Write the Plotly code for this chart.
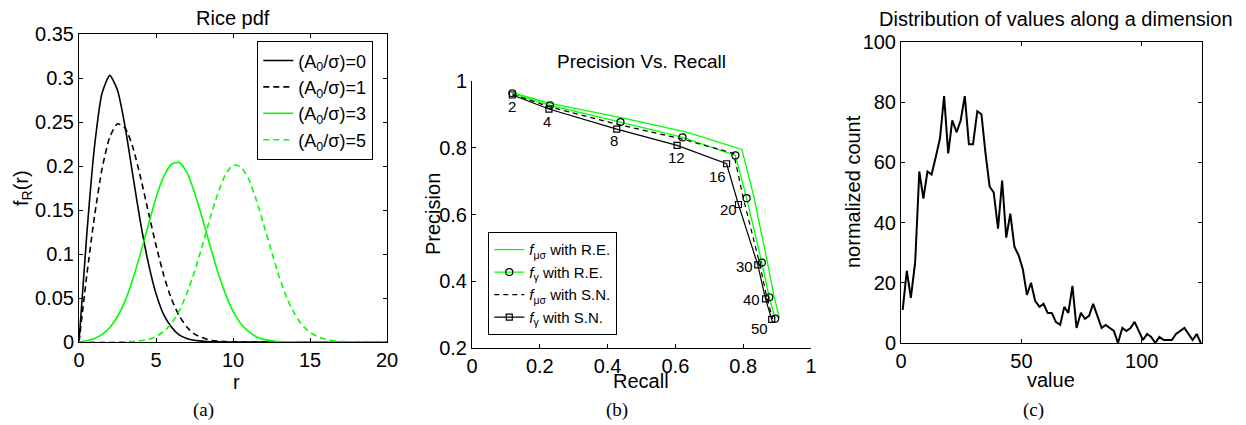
import plotly.graph_objects as go

# page offset of the figure inside the browser (body margin)
OX, OY = 8, 8
W, H = 1246 - OX, 425 - OY

# ---------------- Panel (a): Rice pdf ----------------
r_vals = [0, 0.5, 1, 1.5, 2, 2.5, 3, 3.5, 4, 4.5, 5, 5.5, 6, 6.5, 7, 7.5, 8, 8.5, 9, 9.5,
          10, 10.5, 11, 11.5, 12, 12.5, 13, 13.5, 14, 14.5, 15, 15.5, 16, 16.5, 17, 17.5,
          18, 18.5, 19, 19.5, 20]
rice_snr0 = [0, .121, .221, .283, .303, .286, .244, .189, .135, .090, .055, .031, .017, .008,
             .004, .002, .001, .0003, .0001, 0, 0, 0, 0, 0, 0, 0, 0, 0, 0, 0, 0, 0, 0, 0, 0, 0,
             0, 0, 0, 0, 0]
rice_snr1 = [0, .075, .142, .197, .233, .248, .243, .221, .187, .148, .110, .076, .049, .030,
             .017, .009, .005, .002, .001, .0004, .0002, 0, 0, 0, 0, 0, 0, 0, 0, 0, 0, 0, 0, 0,
             0, 0, 0, 0, 0, 0, 0]
rice_snr3 = [0, .0015, .004, .0086, .0165, .029, .047, .072, .101, .133, .164, .188, .202, .204,
             .193, .170, .141, .110, .080, .055, .035, .021, .012, .006, .003, .0015, .0006,
             .0003, .0001, 0, 0, 0, 0, 0, 0, 0, 0, 0, 0, 0, 0]
rice_snr5 = [0, 0, 0, 0, 0, .0001, .0002, .0006, .0014, .003, .006, .012, .021, .035, .055, .080,
             .109, .140, .168, .190, .201, .199, .186, .162, .133, .103, .074, .050, .032, .019,
             .011, .006, .003, .0013, .0006, .0002, .0001, 0, 0, 0, 0]
rice_names = ["(A<sub>0</sub>/σ)=0", "(A<sub>0</sub>/σ)=1", "(A<sub>0</sub>/σ)=3", "(A<sub>0</sub>/σ)=5"]

# ---------------- Panel (b): Precision vs Recall ----------------
recall_mu_re = [0.12, 0.23, 0.44, 0.633, 0.796, 0.83, 0.870, 0.89, 0.907]
prec_mu_re = [0.965, 0.933, 0.890, 0.847, 0.795, 0.66, 0.464, 0.36, 0.289]
recall_g_re = [0.119, 0.230, 0.438, 0.621, 0.777, 0.810, 0.855, 0.877, 0.894]
prec_g_re = [0.963, 0.927, 0.877, 0.831, 0.777, 0.649, 0.456, 0.352, 0.288]
recall_mu_sn = [0.12, 0.23, 0.43, 0.62, 0.772, 0.80, 0.848, 0.870, 0.887]
prec_mu_sn = [0.960, 0.922, 0.870, 0.826, 0.783, 0.650, 0.455, 0.350, 0.287]
recall_g_sn = [0.119, 0.227, 0.427, 0.605, 0.751, 0.786, 0.843, 0.866, 0.884]
prec_g_sn = [0.958, 0.916, 0.856, 0.807, 0.752, 0.630, 0.449, 0.347, 0.286]
k_labels = ["2", "4", "8", "12", "16", "20", "30", "40", "50"]
k_label_recall = [0.119, 0.222, 0.419, 0.604, 0.725, 0.756, 0.805, 0.825, 0.848]
k_label_prec = [0.923, 0.878, 0.823, 0.770, 0.715, 0.616, 0.444, 0.344, 0.259]

# ---------------- Panel (c): distribution ----------------
value_x = [0.7, 2.4, 4.1, 5.9, 7.6, 9.3, 11.0, 12.7, 14.5, 16.2, 17.9, 19.6, 21.3, 23.1, 24.8,
           26.5, 28.2, 29.9, 31.7, 33.4, 35.1, 36.8, 38.5, 40.3, 42.0, 43.7, 45.4, 47.1, 48.9,
           50.6, 52.3, 54.0, 55.7, 57.5, 59.2, 60.9, 62.6, 64.3, 66.1, 67.8, 69.5, 71.2, 72.9,
           74.7, 76.4, 78.1, 79.8, 81.5, 83.3, 85.0, 86.7, 88.4, 90.1, 91.9, 93.6, 95.3, 97.0,
           98.7, 100.5, 102.2, 103.9, 105.6, 107.3, 109.1, 110.8, 112.5, 114.2, 115.9, 117.7,
           119.4, 121.1, 122.8, 124.5]
norm_count = [11, 24, 15, 27, 57, 48, 57, 56, 62, 68, 82, 63, 74, 70, 74, 82, 66, 66, 77, 76,
              63, 52, 50, 38, 54, 35, 43, 32, 29, 24.5, 16, 20, 14, 12, 13, 10, 10, 7, 6, 12,
              10, 19, 5, 10, 8, 9, 13, 9, 5, 6, 5, 4, 0, 5, 4, 5, 7, 4, 1, 3, 2, 0, 2, 1, 1, 1,
              3, 4, 5, 3, 1, 3, 0]

GREEN = "#00ff00"
FONT = "Liberation Sans, Arial, sans-serif"
SERIF = "Liberation Serif, Times New Roman, serif"


def px_x(X):
    return (X - OX) / W


def px_y(Y):
    return 1 - (Y - OY) / H


def dx(p0, p1):
    return [px_x(p0), px_x(p1)]


def dy(p0, p1):
    return [px_y(p1), px_y(p0)]


fig = go.Figure()

# (a)
styles_a = [("black", "solid"), ("black", "6px,4px"), (GREEN, "solid"), (GREEN, "6px,4px")]
for ys, nm, (c, d) in zip([rice_snr0, rice_snr1, rice_snr3, rice_snr5], rice_names, styles_a):
    fig.add_trace(go.Scatter(x=r_vals, y=ys, mode="lines", name=nm,
                             line=dict(color=c, dash=d, width=1.6, shape="spline", smoothing=0.6),
                             xaxis="x", yaxis="y", legend="legend"))

# (b)
fig.add_trace(go.Scatter(x=recall_mu_re, y=prec_mu_re, mode="lines",
                         name="<i>f</i><sub>μσ</sub> with R.E.",
                         line=dict(color=GREEN, width=1.3), xaxis="x2", yaxis="y2", legend="legend2"))
fig.add_trace(go.Scatter(x=recall_g_re, y=prec_g_re, mode="lines+markers",
                         name="<i>f</i><sub>γ</sub> with R.E.",
                         line=dict(color=GREEN, width=1.3),
                         marker=dict(symbol="circle-open", color="black", size=7, line=dict(width=1.2)),
                         xaxis="x2", yaxis="y2", legend="legend2"))
fig.add_trace(go.Scatter(x=recall_mu_sn, y=prec_mu_sn, mode="lines",
                         name="<i>f</i><sub>μσ</sub> with S.N.",
                         line=dict(color="black", width=1.2, dash="5px,4px"),
                         xaxis="x2", yaxis="y2", legend="legend2"))
fig.add_trace(go.Scatter(x=recall_g_sn, y=prec_g_sn, mode="lines+markers",
                         name="<i>f</i><sub>γ</sub> with S.N.",
                         line=dict(color="black", width=1.2),
                         marker=dict(symbol="square-open", color="black", size=6, line=dict(width=1.2)),
                         xaxis="x2", yaxis="y2", legend="legend2"))

# (c)
fig.add_trace(go.Scatter(x=value_x, y=norm_count, mode="lines", showlegend=False,
                         line=dict(color="black", width=2), xaxis="x3", yaxis="y3"))

axis_common = dict(showline=True, linecolor="black", linewidth=1, ticks="inside", ticklen=4,
                   tickcolor="black", showgrid=False, zeroline=False, automargin=False,
                   tickfont=dict(family=FONT, size=20, color="black"))

fig.update_layout(
    template="none",
    width=W, height=H, margin=dict(l=0, r=0, t=0, b=0, pad=0, autoexpand=False),
    paper_bgcolor="white", plot_bgcolor="white",
    font=dict(family=FONT, color="black"),
    xaxis=dict(domain=dx(79, 387), range=[0, 20], tickvals=[0, 5, 10, 15, 20], mirror="ticks",
               anchor="y", **axis_common),
    yaxis=dict(domain=dy(34, 342), range=[0, 0.35], dtick=0.05, mirror="ticks",
               anchor="x", **axis_common),
    xaxis2=dict(domain=dx(472, 811), range=[0, 1], dtick=0.2, anchor="y2", **axis_common),
    yaxis2=dict(domain=dy(81, 348), range=[0.2, 1], dtick=0.2, anchor="x2", **axis_common),
    xaxis3=dict(domain=dx(901, 1202), range=[0, 125], tickvals=[0, 50, 100], mirror="ticks",
                anchor="y3", **axis_common),
    yaxis3=dict(domain=dy(42, 343), range=[0, 100], dtick=20, mirror="ticks",
                anchor="x3", **axis_common),
    legend=dict(x=px_x(257), y=px_y(41), xanchor="left", yanchor="top",
                bgcolor="white", bordercolor="black", borderwidth=1.3,
                font=dict(family=FONT, size=18, color="black"), tracegroupgap=0),
    legend2=dict(x=px_x(488), y=px_y(232), xanchor="left", yanchor="top",
                 bgcolor="white", bordercolor="black", borderwidth=1.3,
                 font=dict(family=FONT, size=15, color="black"), tracegroupgap=0),
)

ann = []


def add_text(text, X, Y, size, rot=0, family=FONT, xa="center", ya="middle"):
    ann.append(dict(text=text, x=px_x(X), y=px_y(Y), xref="paper", yref="paper",
                    showarrow=False, xanchor=xa, yanchor=ya, textangle=rot,
                    font=dict(family=family, size=size, color="black")))


# titles
add_text("Rice pdf", 233, 18, 20)
add_text("Precision Vs. Recall", 641, 62, 19)
add_text("Distribution of values along a dimension", 1056, 19, 20)
# axis titles
add_text("r", 236, 382, 20)
add_text("f<sub>R</sub>(r)", 22, 188, 20, rot=-90)
add_text("Recall", 641, 381, 20)
add_text("Precision", 433, 214, 20, rot=-90)
add_text("value", 1051, 380, 20)
add_text("normalized count", 853, 192, 20, rot=-90)
# captions
add_text("(a)", 203, 410, 19, family=SERIF)
add_text("(b)", 617, 410, 19, family=SERIF)
add_text("(c)", 1033, 410, 19, family=SERIF)

for t, xv, yv in zip(k_labels, k_label_recall, k_label_prec):
    ann.append(dict(text=t, x=xv, y=yv, xref="x2", yref="y2", showarrow=False,
                    xanchor="center", yanchor="middle",
                    font=dict(family=FONT, size=15, color="black")))

fig.update_layout(annotations=ann)

fig.write_html("out.html")
